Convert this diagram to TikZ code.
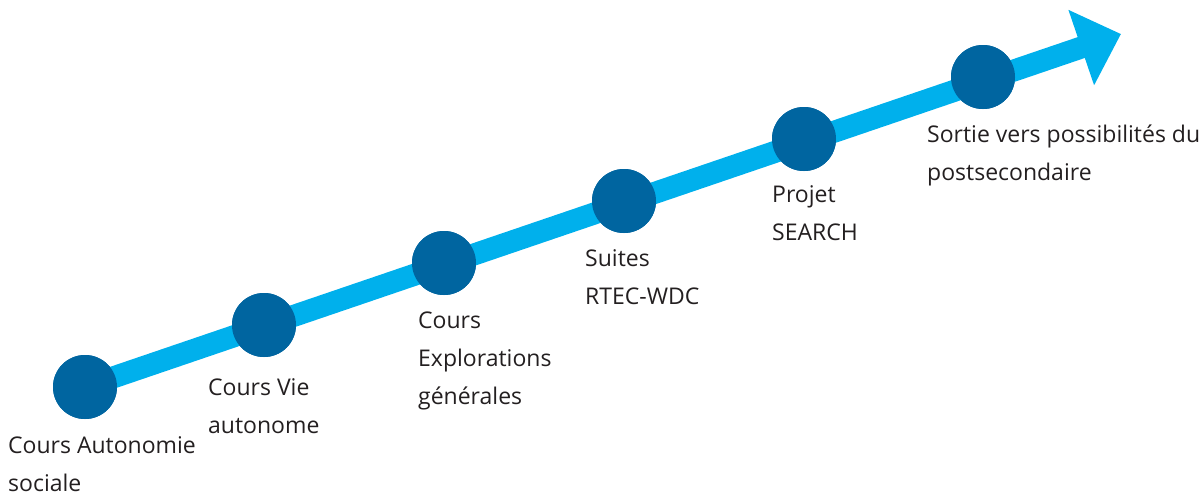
\documentclass[tikz,border=0pt]{standalone}
\usepackage{fontspec}
\setmainfont{Open Sans}
\usetikzlibrary{arrows.meta}
\definecolor{lightblue}{RGB}{0,176,236}
\definecolor{darkblue}{RGB}{0,101,160}
\definecolor{textgray}{RGB}{35,31,32}
\tikzset{
  step dot/.style={circle, fill=darkblue, minimum size=64pt, inner sep=0pt},
  step label/.style={anchor=base west, align=left, text=textgray,
    font=\fontsize{23}{38}\selectfont, inner sep=0pt}
}
\begin{document}
\begin{tikzpicture}[x=1pt, y=-1pt]
  \useasboundingbox (0,0) rectangle (1202,496);
  \coordinate (tip) at (1121,34);
  % the steps
  \node[step dot] (c1) at (85,387) {};
  \node[step dot] (c2) at (264,325) {};
  \node[step dot] (c3) at (444,263) {};
  \node[step dot] (c4) at (624,201) {};
  \node[step dot] (c5) at (804,139) {};
  \node[step dot] (c6) at (983,77) {};
  \draw[lightblue, line width=22pt, -{Triangle[length=42pt, width=77pt]}] (c1.center) -- (tip);
  \foreach \n in {1,...,6} \node[step dot] at (c\n) {};

  % Beschriftungen (anchored at the baseline of the last line)
  \node[step label] (l1) at (8,491) {Cours Autonomie\\sociale};
  \node[step label] (l2) at (208,433) {Cours Vie\\autonome};
  \node[step label] (l3) at (418,404) {Cours\\Explorations\\générales};
  \node[step label] (l4) at (585,304) {Suites\\RTEC-WDC};
  \node[step label] (l5) at (772,240) {Projet\\SEARCH};
  \node[step label] (l6) at (927,180) {Sortie vers possibilités du\\postsecondaire};
\end{tikzpicture}
\end{document}
